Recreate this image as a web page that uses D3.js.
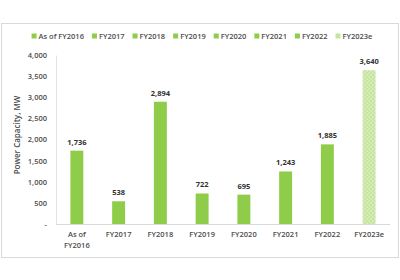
<!DOCTYPE html>
<html>
<head>
<meta charset="utf-8">
<script src="https://cdn.jsdelivr.net/npm/d3@7"></script>
<style>
  body { margin: 0; background: #fff; }
  text { font-family: "Open Sans", "Liberation Sans", sans-serif; }
</style>
</head>
<body>
<svg id="chart" width="400" height="280"></svg>
<script>
var categories = ["As of FY2016", "FY2017", "FY2018", "FY2019", "FY2020", "FY2021", "FY2022", "FY2023e"];
var values = [1736, 538, 2894, 722, 695, 1243, 1885, 3640];
var estimated = [false, false, false, false, false, false, false, true];
var yTicks = [0, 500, 1000, 1500, 2000, 2500, 3000, 3500, 4000];

var green = "#8fcc4a";
var textColor = "#4d4d4d";

var svg = d3.select("#chart");
var margin = { left: 56, right: 10, top: 55, bottom: 56 };
var width = 400, height = 280;

// pattern for the estimate bar
var defs = svg.append("defs");
var pat = defs.append("pattern")
  .attr("id", "dots")
  .attr("width", 4).attr("height", 4)
  .attr("patternUnits", "userSpaceOnUse");
pat.append("rect").attr("width", 4).attr("height", 4).attr("fill", "#c6e6a0");
pat.append("circle").attr("cx", 1).attr("cy", 1).attr("r", 0.7).attr("fill", "#eef8e3");
pat.append("circle").attr("cx", 3).attr("cy", 3).attr("r", 0.7).attr("fill", "#eef8e3");

// frame
svg.append("rect")
  .attr("x", 1.5).attr("y", 23.5)
  .attr("width", 397).attr("height", 234)
  .attr("fill", "none")
  .attr("stroke", "#d9d9d9");

var x = d3.scaleBand()
  .domain(categories)
  .range([margin.left, width - margin.right])
  .paddingInner(0.69)
  .paddingOuter(0.345);

var y = d3.scaleLinear()
  .domain([0, 4000])
  .range([224, 55]);

// y axis
var yAxis = svg.append("g")
  .attr("transform", "translate(" + margin.left + ",0)")
  .call(d3.axisLeft(y).tickValues(yTicks).tickSize(0).tickPadding(9)
    .tickFormat(function(d) { return d === 0 ? "-" : d3.format(",")(d); }));
yAxis.select(".domain").attr("stroke", "#e3e3e3");
yAxis.selectAll("text")
  .attr("fill", textColor)
  .style("font-size", "7.5px")
  .style("font-weight", "600");

// x axis
var xAxis = svg.append("g")
  .attr("transform", "translate(0," + y(0) + ")")
  .call(d3.axisBottom(x).tickSize(0).tickPadding(8));
xAxis.select(".domain").attr("stroke", "#d9d9d9").attr("d", "M" + margin.left + ",0.5H" + (width - margin.right));
xAxis.selectAll("text")
  .attr("fill", textColor)
  .style("font-size", "7.5px")
  .style("font-weight", "600")
  .each(function(d) {
    if (d === "As of FY2016") {
      var t = d3.select(this);
      t.text(null);
      t.append("tspan").attr("x", 0).attr("dy", "0.71em").text("As of");
      t.append("tspan").attr("x", 0).attr("dy", "1.45em").text("FY2016");
    }
  });

// bars
svg.append("g").selectAll("rect")
  .data(categories)
  .enter().append("rect")
  .attr("x", function(d) { return x(d); })
  .attr("y", function(d, i) { return y(values[i]); })
  .attr("width", x.bandwidth())
  .attr("height", function(d, i) { return y(0) - y(values[i]); })
  .attr("fill", function(d, i) { return estimated[i] ? "url(#dots)" : green; });

// data labels
svg.append("g").selectAll("text")
  .data(categories)
  .enter().append("text")
  .attr("x", function(d) { return x(d) + x.bandwidth() / 2; })
  .attr("y", function(d, i) { return y(values[i]) - 6; })
  .attr("text-anchor", "middle")
  .attr("fill", "#333")
  .style("font-size", "7.5px")
  .style("font-weight", "bold")
  .text(function(d, i) { return d3.format(",")(values[i]); });

// y title
svg.append("text")
  .attr("transform", "translate(20,135) rotate(-90)")
  .attr("text-anchor", "middle")
  .attr("fill", textColor)
  .style("font-size", "8px")
  .style("font-weight", "600")
  .text("Power Capacity, MW");

// legend
var legend = svg.append("g").attr("transform", "translate(0,36)");
var items = legend.selectAll("g")
  .data(categories)
  .enter().append("g");
items.append("rect")
  .attr("y", -2.5).attr("width", 5).attr("height", 5)
  .attr("fill", function(d, i) { return estimated[i] ? "#c6e6a0" : green; });
items.append("text")
  .attr("x", 7).attr("dy", "0.35em")
  .attr("fill", textColor)
  .style("font-size", "7.5px")
  .style("font-weight", "600")
  .text(function(d) { return d; });
var pos = 0, offs = [];
items.each(function() {
  offs.push(pos);
  pos += 7 + this.querySelector("text").getComputedTextLength() + 8;
});
pos -= 8;
var start = 202 - pos / 2;
items.attr("transform", function(d, i) { return "translate(" + (start + offs[i]) + ",0)"; });
</script>
</body>
</html>
